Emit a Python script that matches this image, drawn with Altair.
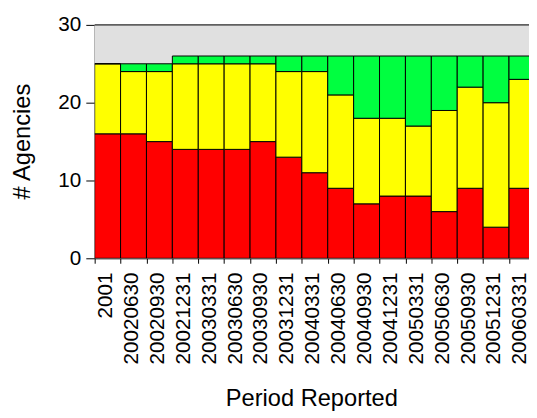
import altair as alt
import pandas as pd

periods = ["2001", "20020630", "20020930", "20021231", "20030331", "20030630",
           "20030930", "20031231", "20040331", "20040630", "20040930", "20041231",
           "20050331", "20050630", "20050930", "20051231", "20060331"]
red = [16, 16, 15, 14, 14, 14, 15, 13, 11, 9, 7, 8, 8, 6, 9, 4, 9]
yellow = [9, 8, 9, 11, 11, 11, 10, 11, 13, 12, 11, 10, 9, 13, 13, 16, 14]
green = [0, 1, 1, 1, 1, 1, 1, 2, 2, 5, 8, 8, 9, 7, 4, 6, 3]
statuses = ["Red", "Yellow", "Green"]
colors = ["#ff0000", "#ffff00", "#00ff40"]

rows = []
for i, p in enumerate(periods):
    for k, (s, vals) in enumerate(zip(statuses, [red, yellow, green])):
        rows.append({"Period": p, "Status": s, "Count": vals[i], "ord": k})
df = pd.DataFrame(rows)

FONT = "Liberation Sans"

bg = alt.Chart(pd.DataFrame({"a": [0]})).mark_rect(color="#e0e0e0").encode(
    x=alt.value(0), x2=alt.value(441), y=alt.value(0), y2=alt.value(237)
)

bars = alt.Chart(df).mark_bar(stroke="black", strokeWidth=1, clip=True).encode(
    x=alt.X("Period:N", sort=periods,
            scale=alt.Scale(paddingInner=0, paddingOuter=0, range=[0, 447]),
            axis=alt.Axis(title="Period Reported", labelAngle=-90, labelAlign="right",
                          labelBaseline="middle", tickBand="extent", tickSize=5,
                          labelPadding=9, labelOffset=-2, labelFontSize=21, titleFontSize=24,
                          titleFontWeight="normal", titleX=220, titleY=142,
                          titleBaseline="middle", domainColor="black", tickColor="black",
                          labelColor="black", titleColor="black", labelFont=FONT,
                          titleFont=FONT)),
    y=alt.Y("Count:Q", stack="zero",
            scale=alt.Scale(domain=[0, 30], nice=False),
            axis=alt.Axis(title="# Agencies", values=[0, 10, 20, 30], grid=False,
                          tickSize=9, labelPadding=5, labelFontSize=21, titleFontSize=24,
                          titleFontWeight="normal", titleX=-73, titleY=118,
                          titleAngle=-90, titleAlign="center", titleBaseline="middle",
                          domainColor="black", tickColor="black", labelColor="black",
                          titleColor="black", labelFont=FONT, titleFont=FONT)),
    color=alt.Color("Status:N", scale=alt.Scale(domain=statuses, range=colors), legend=None),
    order=alt.Order("ord:Q"),
)

top = alt.Chart(pd.DataFrame({"v": [30]})).mark_rule(color="#606060", strokeWidth=2).encode(
    y=alt.Y("v:Q")
)

chart = alt.layer(bg, bars, top).properties(
    width=441, height=237,
    autosize=alt.AutoSizeParams(type="none"),
    padding={"left": 88, "top": 14, "right": 0, "bottom": 159},
).configure_view(stroke=None).configure(background="white")

chart.save("out.html", embed_options={"renderer": "svg", "actions": False})
